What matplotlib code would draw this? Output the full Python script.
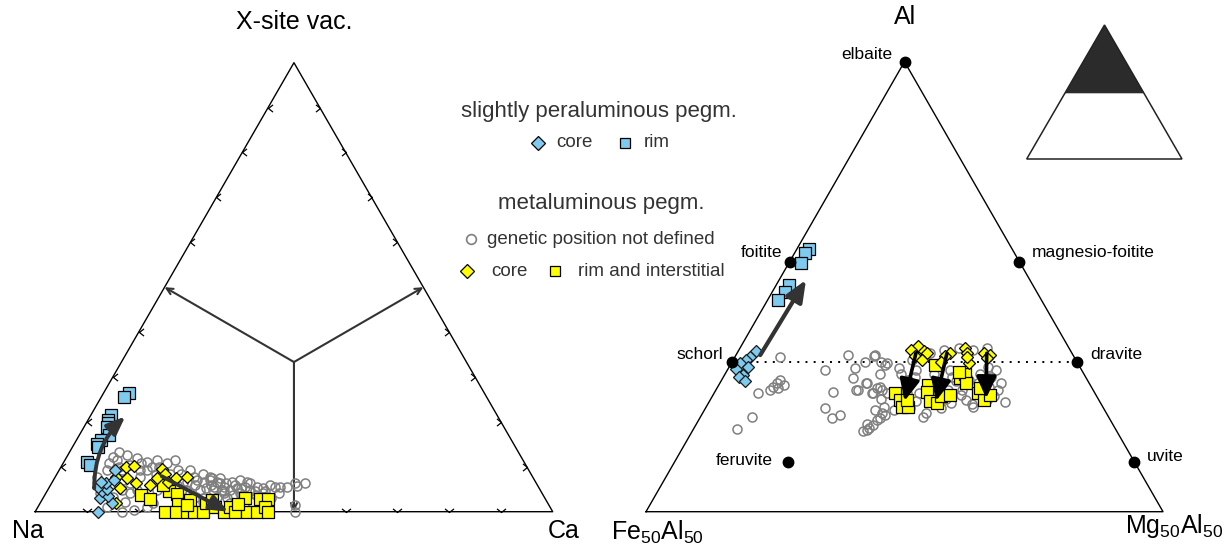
import matplotlib

matplotlib.use("Agg")
import matplotlib.pyplot as plt
import numpy as np
from matplotlib.path import Path
from matplotlib.patches import Polygon

plt.rcParams["font.family"] = ["Liberation Sans", "DejaVu Sans"]
plt.rcParams["mathtext.default"] = "regular"

W, H = 1231, 553
BLUE = "#7fcbf0"
YELLOW = "#ffff00"
GRAY = "#7f7f7f"
DARK = "#333333"
TXT = "#333333"

# ---- X-site triangle: (X-site vacancy, Ca) fractions, Na = rest ----
xs_per_rim = [(.265, .048), (.256, .044), (.215, .039), (.204, .038), (.197, .043),
              (.188, .044), (.171, .058), (.160, .047), (.151, .044), (.143, .050),
              (.111, .044), (.104, .054)]
xs_per_core = [(0, .122), (.019, .139), (.030, .110), (.035, .124), (.045, .106),
               (.050, .114), (.054, .095), (.063, .105), (.071, .116), (.067, .093),
               (.093, .107)]
xs_met_undef = [(.134, .094), (.126, .114), (.119, .137), (.111, .160), (.115, .177),
                (.108, .200), (.115, .213), (.093, .253), (.093, .230), (.115, .101),
                (.100, .111), (.093, .092), (.078, .080), (.056, .101), (.059, .115),
                (.048, .143), (.041, .163), (.022, .162), (0, .167), (.048, .172),
                (.078, .164), (.093, .169), (.100, .175), (.093, .156), (.085, .282),
                (.078, .299), (.074, .320), (.067, .292), (.059, .279), (.059, .311),
                (.063, .338), (.059, .356), (.071, .360), (.056, .378), (.048, .391),
                (.048, .352), (.048, .336), (.033, .334), (.030, .355), (.041, .375),
                (.056, .400), (.052, .415), (.059, .424), (.056, .436), (.056, .445),
                (.056, .458), (.057, .477), (0, .502), (.015, .495), (.033, .295),
                (.048, .268), (.063, .255), (.078, .267), (.085, .218), (.041, .279),
                (.048, .294), (.048, .320), (.037, .364), (.067, .375), (.041, .420),
                (.037, .409), (.067, .317), (.059, .244), (.033, .199), (.048, .211),
                (.033, .134), (.011, .133), (.041, .105), (.063, .152), (.085, .128),
                (.108, .088), (.004, .188), (.011, .210), (.019, .219), (.022, .314),
                (.019, .367), (.022, .407), (.045, .422), (.052, .363), (.063, .384),
                (.056, .336), (.071, .302), (.071, .277), (.085, .240), (.082, .207),
                (.104, .131), (.122, .090), (.052, .305), (.063, .326), (.045, .342),
                (.067, .347), (.052, .372), (.041, .344), (.056, .318), (.074, .305),
                (.085, .190), (.100, .190), (.108, .150), (.093, .122), (.070, .135),
                (.067, .260), (.045, .402), (.030, .440), (.041, .450), (.063, .470),
                (.063, .490), (.030, .310)]
xs_met_core = [(.100, .125), (.102, .139), (.078, .117), (.074, .140), (.063, .163),
               (.052, .137), (.019, .147), (.095, .197), (.085, .208), (.074, .198),
               (.059, .192), (.074, .236), (.077, .255), (.067, .224)]
xs_met_rim = [(.037, .186), (.028, .207), (0, .251), (.045, .237), (.039, .254),
              (.017, .268), (0, .273), (0, .293), (.025, .287), (0, .306), (0, .325),
              (.020, .321), (.011, .342), (0, .364), (.011, .371), (0, .386),
              (.030, .390), (0, .409), (0, .428), (.028, .420), (.028, .435),
              (.010, .439), (0, .449), (.017, .384), (.025, .329), (.015, .286),
              (.059, .218)]
xs_arrow_per = [(.052, .088), (.212, .068)]
xs_arrow_met = [(.079, .205), (0, .373)]

# ---- Y-site triangle: (Al, Mg50Al50) fractions, Fe50Al50 = rest ----
ys_end_members = ["elbaite", "foitite", "schorl", "magnesio-foitite", "dravite",
                  "uvite", "feruvite"]
ys_end_al = [1.0, 5 / 9, 1 / 3, 5 / 9, 1 / 3, 1 / 9, 1 / 9]
ys_end_mg = [0.0, 0.0, 0.0, 4 / 9, 2 / 3, 8 / 9, 0.22]
ys_per_rim = [(.583, .023), (.574, .021), (.552, .023), (.504, .025), (.489, .025),
              (.470, .021)]
ys_per_core = [(.356, .035), (.344, .029), (.337, .025), (.330, .017), (.322, .037),
               (.316, .017), (.304, .036), (.300, .030), (.291, .046)]
ys_met_undef = [(.343, .088), (.263, .086), (.278, .107), (.285, .110), (.293, .113),
                (.282, .125), (.271, .105), (.274, .119), (.210, .100), (.183, .085),
                (.315, .189), (.265, .230), (.230, .231), (.215, .268), (.208, .255),
                (.348, .217), (.319, .245), (.296, .253), (.270, .272), (.333, .257),
                (.345, .268), (.333, .289), (.326, .299), (.285, .284), (.263, .305),
                (.274, .309), (.270, .321), (.182, .336), (.193, .343), (.208, .349),
                (.215, .355), (.348, .268), (.330, .302), (.307, .299), (.285, .283),
                (.270, .276), (.263, .307), (.278, .314), (.263, .335), (.219, .347),
                (.204, .344), (.185, .339), (.233, .343), (.307, .340), (.293, .361),
                (.337, .346), (.352, .373), (.359, .397), (.363, .423), (.359, .453),
                (.363, .478), (.285, .545), (.244, .572), (.256, .546), (.270, .511),
                (.248, .494), (.241, .470), (.263, .439), (.219, .433), (.211, .430),
                (.307, .403), (.300, .441), (.293, .479), (.307, .492), (.270, .476),
                (.233, .516), (.248, .536), (.270, .545), (.300, .517), (.270, .449),
                (.263, .397), (.263, .373), (.315, .364), (.241, .374), (.226, .367),
                (.300, .470), (.285, .500), (.278, .525), (.260, .480), (.290, .455),
                (.315, .430), (.322, .500), (.315, .520), (.240, .510), (.230, .455),
                (.250, .455), (.245, .400), (.230, .395), (.300, .370), (.320, .330),
                (.250, .330), (.225, .330), (.195, .330), (.180, .330)]
ys_met_core = [(.368, .342), (.359, .334), (.356, .359), (.352, .367), (.345, .348),
               (.337, .365), (.352, .412), (.345, .406), (.333, .405), (.363, .436),
               (.352, .444), (.330, .459), (.343, .449), (.352, .477), (.348, .491),
               (.341, .489)]
ys_met_rim = [(.263, .350), (.248, .367), (.233, .378), (.233, .391), (.248, .380),
              (.282, .405), (.265, .411), (.245, .427), (.241, .443), (.257, .443),
              (.326, .396), (.259, .459), (.296, .459), (.306, .464), (.285, .476),
              (.263, .511), (.248, .529), (.259, .536), (.274, .509), (.311, .449)]
ys_arrow_per = [(.348, .047), (.515, .052)]
ys_arrows_met = [[(.352, .346), (.246, .377)],
                 [(.352, .406), (.246, .438)],
                 [(.352, .483), (.252, .532)]]


def px_axes(fig, left, top, width, height):
    ax = fig.add_axes([left / W, 1 - (top + height) / H, width / W, height / H])
    ax.set_xlim(0, 1)
    ax.set_ylim(0, 1)
    ax.axis("off")
    return ax


def tern(pairs):
    # (apex fraction, right-corner fraction) -> cartesian inside unit triangle
    a = np.array([p[0] for p in pairs])
    c = np.array([p[1] for p in pairs])
    return c + a / 2, a


def draw_points(ax, undef, core, rim, per_core, per_rim):
    x, y = tern(undef)
    ax.plot(x, y, ls="none", marker="o", ms=6.5, mfc="none", mec=GRAY, mew=1.1,
            clip_on=False, zorder=3)
    x, y = tern(rim)
    ax.plot(x, y, ls="none", marker="s", ms=8.2, mfc=YELLOW, mec="black", mew=0.9,
            clip_on=False, zorder=4)
    x, y = tern(core)
    ax.plot(x, y, ls="none", marker="D", ms=6.5, mfc=YELLOW, mec="black", mew=0.9,
            clip_on=False, zorder=5)
    x, y = tern(per_rim)
    ax.plot(x, y, ls="none", marker="s", ms=8.2, mfc=BLUE, mec="black", mew=0.9,
            clip_on=False, zorder=6)
    x, y = tern(per_core)
    ax.plot(x, y, ls="none", marker="D", ms=6.5, mfc=BLUE, mec="#1a1a1a", mew=0.9,
            clip_on=False, zorder=7)


def arrow(ax, pair, color, rad=0.0, lw=2.6, hl=0.95, hw=0.4):
    (x0, x1), (y0, y1) = tern(pair)
    ax.annotate("", xy=(x1, y1), xytext=(x0, y0), zorder=9,
                arrowprops=dict(arrowstyle=f"-|>,head_length={hl},head_width={hw}",
                                color=color, lw=lw, shrinkA=0, shrinkB=0,
                                connectionstyle=f"arc3,rad={rad}"))


def triangle_outline(ax):
    ax.plot([0, 1, 0.5, 0], [0, 0, 1, 0], color="black", lw=1.0, zorder=2,
            clip_on=False)


fig = plt.figure(figsize=(W / 100, H / 100), dpi=100)
over = fig.add_axes([0, 0, 1, 1])
over.set_xlim(0, W)
over.set_ylim(H, 0)
over.axis("off")

# ---------------- left: X-site ----------------
axL = px_axes(fig, 35.2, 62.7, 517.5, 449)
triangle_outline(axL)

steps = [0.1, 0.2, 0.3, 0.4, 0.6, 0.7, 0.8, 0.9]
chev_l = Path([(1, 0.8), (0, 0), (1, -0.8)], [Path.MOVETO, Path.LINETO, Path.LINETO])
chev_r = Path([(-1, 0.8), (0, 0), (-1, -0.8)], [Path.MOVETO, Path.LINETO, Path.LINETO])
chev_b = Path([(-1, 0.8), (0, 0), (1, 0.8)], [Path.MOVETO, Path.LINETO, Path.LINETO])
st = np.array(steps)
kw = dict(ls="none", ms=6.5, mfc="none", mec="black", mew=0.9, clip_on=False, zorder=2)
axL.plot(st / 2, st, marker=chev_l, **kw)
axL.plot(1 - st / 2, st, marker=chev_r, **kw)
axL.plot(st, np.zeros_like(st), marker=chev_b, **kw)

centre = (0.5, 1 / 3)
for end in [(0.25, 0.5), (0.75, 0.5), (0.5, 0.0)]:
    axL.annotate("", xy=end, xytext=centre, zorder=2,
                 arrowprops=dict(arrowstyle="->,head_length=0.45,head_width=0.22",
                                 color=DARK, lw=1.5, shrinkA=0, shrinkB=0))

draw_points(axL, xs_met_undef, xs_met_core, xs_met_rim, xs_per_core, xs_per_rim)
arrow(axL, xs_arrow_per, DARK, rad=-0.22, lw=2.8, hl=1.1, hw=0.45)
arrow(axL, xs_arrow_met, DARK, lw=2.8, hl=1.1, hw=0.45)

# ---------------- right: Y-site ----------------
axR = px_axes(fig, 646, 61.7, 517, 450)
triangle_outline(axR)
draw_points(axR, ys_met_undef, ys_met_core, ys_met_rim, ys_per_core, ys_per_rim)

ex, ey = tern(list(zip(ys_end_al, ys_end_mg)))
axR.plot([ex[2], ex[4]], [ey[2], ey[4]], color="black", lw=1.4, ls=(0, (1, 3.2)),
         zorder=2)
axR.plot(ex, ey, ls="none", marker="o", ms=7.5, mfc="black", mec="black",
         clip_on=False, zorder=8)
offsets = {"elbaite": (-8.5, 5, "right"), "foitite": (-5, 6.5, "right"),
           "schorl": (-6.5, 5, "right"), "magnesio-foitite": (9, 6.5, "left"),
           "dravite": (9.8, 5, "left"), "uvite": (9, 3.5, "left"),
           "feruvite": (-11, 1, "right")}
for name, x, y in zip(ys_end_members, ex, ey):
    dx, dy, ha = offsets[name]
    axR.annotate(name, (x, y), xytext=(dx, dy), textcoords="offset points",
                 ha=ha, va="center", fontsize=12.5, color="black", zorder=10)

arrow(axR, ys_arrow_per, DARK, lw=3.0, hl=1.3, hw=0.55)
for pair in ys_arrows_met:
    arrow(axR, pair, "black", lw=2.6, hl=1.3, hw=0.6)

# ---------------- corner labels ----------------
over.text(294, 22, "X-site vac.", ha="center", va="center", fontsize=18)
over.text(11.7, 538, "Na", ha="left", va="baseline", fontsize=18)
over.text(548, 538, "Ca", ha="left", va="baseline", fontsize=18)
over.text(905, 17, "Al", ha="center", va="center", fontsize=18)
over.text(611, 540, "Fe$_{50}$Al$_{50}$", ha="left", va="baseline", fontsize=18)
over.text(1125, 533, "Mg$_{50}$Al$_{50}$", ha="left", va="baseline", fontsize=18)

# ---------------- legend ----------------
over.text(598.5, 111.7, "slightly peraluminous pegm.", ha="center", va="center",
          fontsize=16, color=TXT)
over.plot([537.7], [142.7], marker="D", ms=7, mfc=BLUE, mec="black", mew=0.9)
over.text(556.7, 142.7, "core", ha="left", va="center", fontsize=13.5, color=TXT)
over.plot([625], [142.7], marker="s", ms=7.5, mfc=BLUE, mec="black", mew=0.9)
over.text(644, 142.7, "rim", ha="left", va="center", fontsize=13.5, color=TXT)
over.text(601, 203.3, "metaluminous pegm.", ha="center", va="center",
          fontsize=16, color=TXT)
over.plot([471], [239.3], marker="o", ms=7, mfc="none", mec=GRAY, mew=1.2)
over.text(486.7, 239.3, "genetic position not defined", ha="left", va="center",
          fontsize=13.5, color=TXT)
over.plot([466.7], [271], marker="D", ms=7, mfc=YELLOW, mec="black", mew=0.9)
over.text(491.7, 271, "core", ha="left", va="center", fontsize=13.5, color=TXT)
over.plot([555], [271], marker="s", ms=7.5, mfc=YELLOW, mec="black", mew=0.9)
over.text(578, 271, "rim and interstitial", ha="left", va="center",
          fontsize=13.5, color=TXT)

# ---------------- key triangle (Al field highlighted) ----------------
over.add_patch(Polygon([(1104.5, 25), (1065, 93.3), (1144, 93.3)], closed=True,
                       facecolor="#2b2b2b", edgecolor="none"))
over.add_patch(Polygon([(1104.5, 25), (1026.7, 159), (1182, 159)], closed=True,
                       facecolor="none", edgecolor="#222222", lw=1.1))

fig.savefig("out.png", dpi=100)
